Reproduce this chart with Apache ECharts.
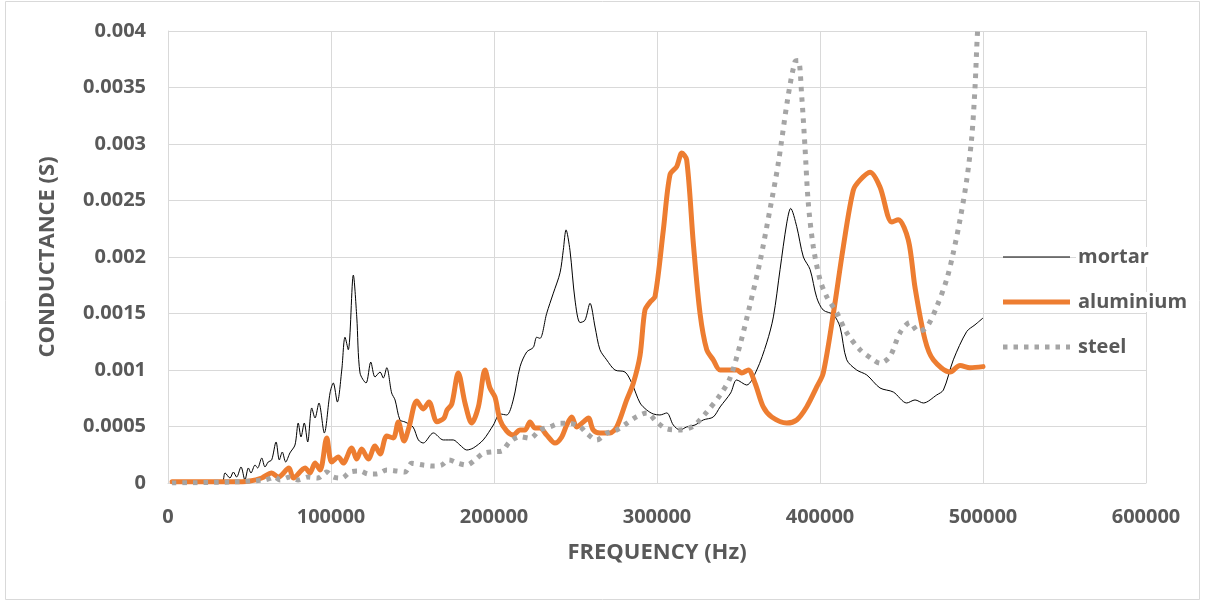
<!DOCTYPE html>
<html><head><meta charset="utf-8">
<script src="https://cdn.jsdelivr.net/npm/echarts@6/dist/echarts.min.js"></script>
<style>html,body{margin:0;padding:0;background:#fff}#c{width:1206px;height:602px}</style>
</head><body><div id="c"></div>
<script>
const xTicks = [0, 100000, 200000, 300000, 400000, 500000, 600000];
const seriesNames = ['mortar', 'aluminium', 'steel'];

const mortarFreq = [3000, 19600, 33100, 35000, 38000, 40100, 42100, 44800, 47200, 49300,
  50900, 53400, 55000, 57500, 59500, 61500, 63600, 66300, 68300, 70100,
  72200, 74800, 77900, 79900, 81600, 83600, 85700, 88200, 90200, 92600,
  95900, 99400, 101400, 103900, 106600, 108600, 110600, 113700, 115800, 117800,
  121500, 124400, 127000, 130100, 132100, 134200, 137200, 139300, 142300, 145400,
  150300, 153600, 156600, 162800, 168900, 175000, 179100, 183300, 187300, 193400,
  199600, 203700, 207800, 211800, 216000, 220100, 224100, 226200, 228200, 232300,
  236400, 240500, 242500, 244200, 246600, 249700, 252800, 255800, 258900, 262000,
  265000, 269100, 274200, 280400, 284500, 289600, 293700, 297700, 301800, 306000,
  310000, 314100, 318200, 323300, 328400, 334500, 338700, 345200, 348900, 355000,
  361200, 367300, 371400, 375500, 379600, 382000, 385700, 389800, 393900, 398000,
  402000, 408200, 412300, 416400, 422500, 428700, 436800, 445000, 453200, 458300,
  463400, 471600, 475700, 481800, 490000, 495100, 500000];
const mortarG = [0, 0, 0.000009, 0.000089, 0.000044, 0.000097, 0.000053, 0.000142, 0.000027, 0.000133,
  0.000089, 0.000159, 0.000133, 0.000221, 0.000142, 0.000186, 0.000204, 0.000363, 0.000204, 0.000274,
  0.000186, 0.000266, 0.000336, 0.000531, 0.000407, 0.000531, 0.000363, 0.000664, 0.000575, 0.000708,
  0.000443, 0.000797, 0.000885, 0.000717, 0.001, 0.00129, 0.00118, 0.00184, 0.00147, 0.000974,
  0.000885, 0.00107, 0.000938, 0.000982, 0.000929, 0.00102, 0.000797, 0.000735, 0.000558, 0.00054,
  0.000496, 0.000381, 0.000354, 0.000443, 0.000381, 0.000381, 0.000336, 0.000292, 0.00031, 0.000381,
  0.000513, 0.000611, 0.000602, 0.000735, 0.00103, 0.00116, 0.0012, 0.00129, 0.00128, 0.0015,
  0.00168, 0.00186, 0.00206, 0.00224, 0.00206, 0.00162, 0.00142, 0.00144, 0.00159, 0.00138,
  0.00118, 0.00109, 0.001, 0.000982, 0.000885, 0.000708, 0.000646, 0.000611, 0.000602, 0.00062,
  0.000513, 0.000469, 0.000496, 0.000513, 0.000558, 0.000584, 0.000673, 0.000797, 0.000912, 0.000867,
  0.001, 0.00124, 0.00147, 0.00189, 0.0023, 0.00243, 0.00227, 0.002, 0.00189, 0.00164,
  0.00153, 0.00149, 0.00138, 0.00109, 0.001, 0.000956, 0.000841, 0.000805, 0.000708, 0.000735,
  0.000708, 0.000779, 0.000823, 0.00109, 0.00134, 0.0014, 0.00146];

const aluminiumFreq = [2500, 39300, 50300, 57500, 63600, 67700, 74200, 76900, 84100, 87100,
  90200, 93300, 97400, 100400, 104500, 107500, 112700, 115800, 118800, 122900,
  127000, 130100, 134200, 138200, 141300, 144800, 147900, 152600, 156600, 160100,
  165000, 169300, 171200, 174100, 178100, 182200, 186300, 190400, 194500, 197500,
  200600, 203700, 207800, 211800, 216000, 219000, 222100, 225200, 228200, 232300,
  237400, 241500, 244600, 247700, 250700, 254800, 257900, 260900, 265000, 271200,
  275300, 281400, 285500, 289600, 292600, 295700, 298800, 303900, 308000, 312100,
  315200, 318200, 322300, 326400, 330500, 334500, 338700, 348900, 352000, 356000,
  360100, 365200, 370400, 379600, 385700, 391800, 398000, 402000, 408200, 414300,
  420400, 424500, 430700, 436800, 444000, 448000, 454200, 458300, 464400, 469500,
  479800, 485900, 492000, 500000];
const aluminiumG = [0.00001, 0.00001, 0.000018, 0.000044, 0.000089, 0.000053, 0.000133, 0.000044, 0.000133, 0.000089,
  0.000177, 0.000115, 0.000398, 0.000186, 0.00023, 0.000177, 0.00031, 0.000212, 0.000301, 0.000212,
  0.000327, 0.000257, 0.000416, 0.000398, 0.00054, 0.000372, 0.000496, 0.000726, 0.000655, 0.000717,
  0.000542, 0.000575, 0.000646, 0.000699, 0.000974, 0.000708, 0.000531, 0.000673, 0.001, 0.000841,
  0.000761, 0.000558, 0.00046, 0.000425, 0.000469, 0.000469, 0.00054, 0.000487, 0.000487, 0.000425,
  0.000354, 0.000407, 0.000513, 0.000584, 0.000496, 0.00054, 0.000575, 0.000469, 0.000443, 0.000443,
  0.000496, 0.000735, 0.000885, 0.00113, 0.00153, 0.0016, 0.00165, 0.00224, 0.00273, 0.0028,
  0.00292, 0.00286, 0.00212, 0.0015, 0.00118, 0.00109, 0.001, 0.001, 0.000974, 0.001,
  0.000885, 0.000673, 0.000584, 0.000531, 0.000558, 0.000673, 0.00085, 0.000974, 0.0015, 0.00209,
  0.00259, 0.00268, 0.00275, 0.00262, 0.00231, 0.00233, 0.00215, 0.00173, 0.00127, 0.00109,
  0.000982, 0.00104, 0.00102, 0.00103];

const steelFreq = [2500, 38000, 59500, 65600, 68700, 74800, 79800, 85900, 92000, 97400,
  101400, 106600, 111700, 117800, 122900, 128000, 134200, 140300, 145400, 149500,
  156600, 162800, 167900, 172400, 178100, 183300, 188300, 193400, 199600, 204700,
  209800, 216000, 222100, 228200, 234400, 240500, 246600, 252800, 256900, 263000,
  269100, 275300, 281400, 287500, 293700, 299800, 306000, 314100, 322300, 330500,
  338700, 344800, 350900, 357100, 363200, 369300, 374200, 380400, 384700, 386700,
  388800, 390800, 392800, 395900, 400000, 404100, 410200, 416400, 424500, 432700,
  436800, 442900, 449100, 455200, 460300, 465500, 471600, 477700, 481800, 485900,
  490000, 493100, 495100, 496600, 500000];
const steelG = [0, 0.000009, 0.000027, 0.000053, 0.000027, 0.000053, 0.000027, 0.000053, 0.000044, 0.000097,
  0.000053, 0.000044, 0.000097, 0.000106, 0.00008, 0.00008, 0.000115, 0.000106, 0.000097, 0.000174,
  0.000159, 0.00015, 0.000159, 0.000204, 0.000174, 0.000159, 0.000204, 0.000263, 0.000277, 0.000283,
  0.000366, 0.00041, 0.000396, 0.000469, 0.000498, 0.000528, 0.000528, 0.000498, 0.00044, 0.000381,
  0.00044, 0.000469, 0.000528, 0.000587, 0.00062, 0.00054, 0.000478, 0.000469, 0.000504, 0.000628,
  0.000779, 0.000929, 0.00122, 0.00158, 0.00196, 0.00242, 0.00281, 0.00342, 0.00373, 0.00374,
  0.00342, 0.00297, 0.00248, 0.00209, 0.0018, 0.00165, 0.00151, 0.00133, 0.00118, 0.00109,
  0.00106, 0.00112, 0.00133, 0.00142, 0.00134, 0.00138, 0.00156, 0.0018, 0.00204, 0.00233,
  0.00268, 0.00306, 0.0035, 0.00398, 0.0047];

const pairs = (xs, ys) => xs.map((x, i) => [x, ys[i]]);
const FONT = '"Open Sans", "Noto Sans", sans-serif';
const TXT = '#595959';
const GRID = '#D9D9D9';

const lineStyles = [
  {color: '#000000', width: 1},
  {color: '#ED7D31', width: 5, cap: 'round', join: 'round'},
  {color: '#A5A5A5', width: 5, type: [4.5, 6], cap: 'butt'}
];
const seriesData = [pairs(mortarFreq, mortarG), pairs(aluminiumFreq, aluminiumG), pairs(steelFreq, steelG)];

// manual legend (line sample + text) on the right
const legendGraphics = [];
seriesNames.forEach((name, i) => {
  const y = 257 + i * 45;
  const ls = lineStyles[i];
  legendGraphics.push({
    type: 'line', silent: true, z: 100,
    shape: {x1: 1003, y1: y, x2: 1070, y2: y},
    style: {stroke: ls.color, lineWidth: ls.width, lineDash: Array.isArray(ls.type) ? ls.type : null, lineCap: 'butt'}
  });
  legendGraphics.push({
    type: 'text', silent: true, z: 100, x: 1076, y: y,
    style: {text: name, fill: TXT, font: 'bold 20px ' + FONT, verticalAlign: 'middle', align: 'left',
      backgroundColor: '#ffffff', padding: [0, 2, 0, 2]}
  });
});

const chart = echarts.init(document.getElementById('c'), null, {renderer: 'canvas'});
chart.setOption({
  animation: false,
  backgroundColor: '#fff',
  graphic: [{
    type: 'rect', silent: true, z: -10,
    shape: {x: 5.5, y: 1.5, width: 1194, height: 598},
    style: {fill: 'none', stroke: GRID, lineWidth: 1}
  }].concat(legendGraphics),
  grid: {left: 168, right: 60, top: 31, bottom: 119, containLabel: false},
  xAxis: {
    type: 'value', min: xTicks[0], max: xTicks[xTicks.length - 1], interval: 100000,
    name: 'FREQUENCY (Hz)', nameLocation: 'middle', nameGap: 59,
    nameTextStyle: {fontFamily: FONT, fontSize: 22, fontWeight: 'bold', color: TXT},
    axisLine: {show: true, lineStyle: {color: GRID, width: 1}},
    axisTick: {show: false},
    splitLine: {show: true, lineStyle: {color: GRID, width: 1}},
    axisLabel: {fontFamily: FONT, fontSize: 20, fontWeight: 'bold', color: TXT, margin: 24,
      formatter: v => String(v)}
  },
  yAxis: {
    type: 'value', min: 0, max: 0.004, interval: 0.0005,
    name: 'CONDUCTANCE (S)', nameLocation: 'middle', nameGap: 109, nameRotate: 90,
    nameTextStyle: {fontFamily: FONT, fontSize: 22, fontWeight: 'bold', color: TXT},
    axisLine: {show: true, lineStyle: {color: GRID, width: 1}},
    axisTick: {show: false},
    splitLine: {show: true, lineStyle: {color: GRID, width: 1}},
    axisLabel: {fontFamily: FONT, fontSize: 20, fontWeight: 'bold', color: TXT, margin: 22,
      formatter: v => String(parseFloat(v.toPrecision(6)))}
  },
  series: seriesNames.map((name, i) => ({
    name: name, type: 'line', data: seriesData[i], smooth: 0.3,
    showSymbol: false, symbol: 'none', color: lineStyles[i].color,
    lineStyle: lineStyles[i]
  }))
});
</script>
</body></html>
